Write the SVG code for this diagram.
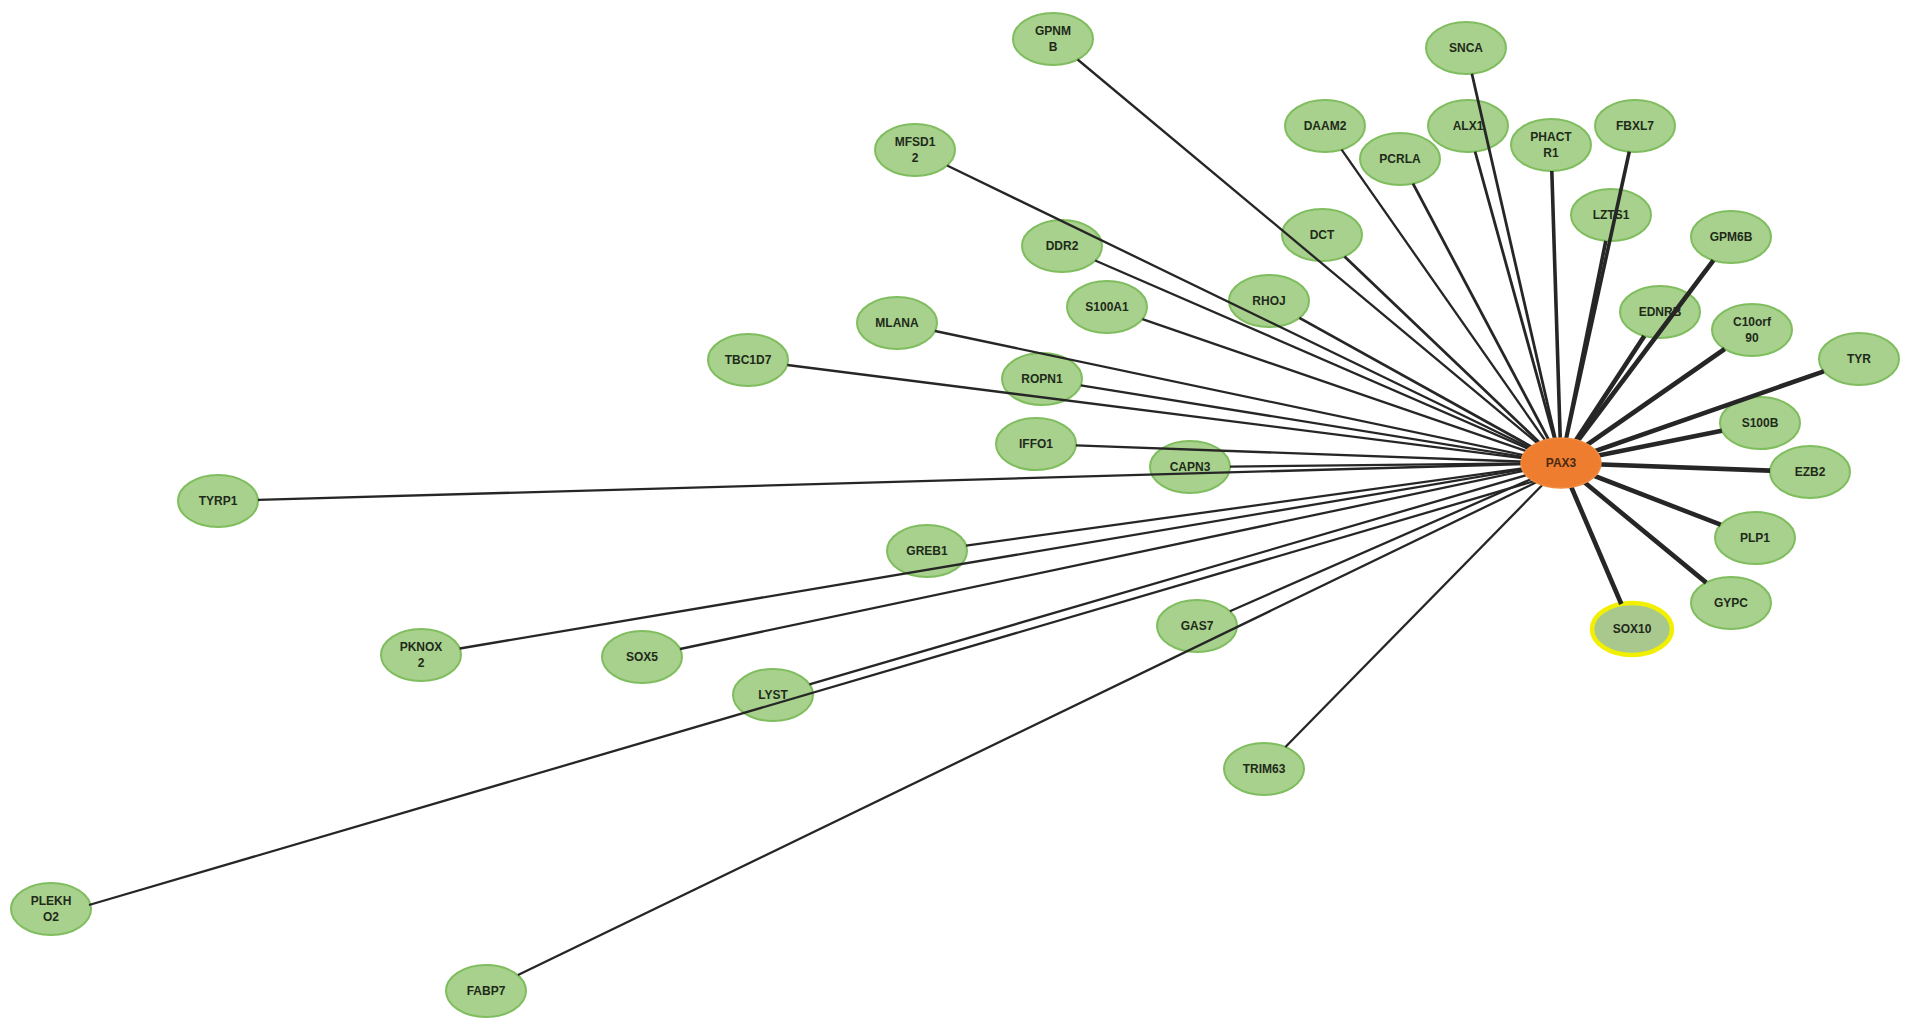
<svg xmlns="http://www.w3.org/2000/svg" width="1913" height="1031" viewBox="0 0 1913 1031">
<style>
.n ellipse{fill:#a8d18d;stroke:#7fbd5e;stroke-width:2}
.n text{font-family:"Liberation Sans",Arial,sans-serif;font-weight:bold;font-size:12px;fill:#1f2a1a;text-anchor:middle;dominant-baseline:central}
.hub ellipse{fill:#ef7d30;stroke:#f08a40;stroke-width:1.5}
.hub text{fill:#4a2a12}
.sox ellipse{fill:#a8c88e;stroke:#f2f000;stroke-width:4.5}
.e line{stroke:#262626;stroke-linecap:butt}
.t1{stroke-width:2.3}
.t2{stroke-width:2.8}
.t3{stroke-width:3.6}
.t4{stroke-width:4.6}
</style>
<rect width="1913" height="1031" fill="#ffffff"/>
<g id="nodes">
<g id="node-GPNMB" class="n"><ellipse cx="1053" cy="39" rx="40" ry="26"/><text x="1053" y="31">GPNM</text><text x="1053" y="47">B</text></g>
<g id="node-SNCA" class="n"><ellipse cx="1466" cy="48" rx="40" ry="26"/><text x="1466" y="48">SNCA</text></g>
<g id="node-DAAM2" class="n"><ellipse cx="1325" cy="126" rx="40" ry="26"/><text x="1325" y="126">DAAM2</text></g>
<g id="node-ALX1" class="n"><ellipse cx="1468" cy="126" rx="40" ry="26"/><text x="1468" y="126">ALX1</text></g>
<g id="node-PCRLA" class="n"><ellipse cx="1400" cy="159" rx="40" ry="26"/><text x="1400" y="159">PCRLA</text></g>
<g id="node-PHACTR1" class="n"><ellipse cx="1551" cy="145" rx="40" ry="26"/><text x="1551" y="137">PHACT</text><text x="1551" y="153">R1</text></g>
<g id="node-FBXL7" class="n"><ellipse cx="1635" cy="126" rx="40" ry="26"/><text x="1635" y="126">FBXL7</text></g>
<g id="node-MFSD12" class="n"><ellipse cx="915" cy="150" rx="40" ry="26"/><text x="915" y="142">MFSD1</text><text x="915" y="158">2</text></g>
<g id="node-DCT" class="n"><ellipse cx="1322" cy="235" rx="40" ry="26"/><text x="1322" y="235">DCT</text></g>
<g id="node-LZTS1" class="n"><ellipse cx="1611" cy="215" rx="40" ry="26"/><text x="1611" y="215">LZTS1</text></g>
<g id="node-GPM6B" class="n"><ellipse cx="1731" cy="237" rx="40" ry="26"/><text x="1731" y="237">GPM6B</text></g>
<g id="node-DDR2" class="n"><ellipse cx="1062" cy="246" rx="40" ry="26"/><text x="1062" y="246">DDR2</text></g>
<g id="node-RHOJ" class="n"><ellipse cx="1269" cy="301" rx="40" ry="26"/><text x="1269" y="301">RHOJ</text></g>
<g id="node-S100A1" class="n"><ellipse cx="1107" cy="307" rx="40" ry="26"/><text x="1107" y="307">S100A1</text></g>
<g id="node-EDNRB" class="n"><ellipse cx="1660" cy="312" rx="40" ry="26"/><text x="1660" y="312">EDNRB</text></g>
<g id="node-C10orf90" class="n"><ellipse cx="1752" cy="330" rx="40" ry="26"/><text x="1752" y="322">C10orf</text><text x="1752" y="338">90</text></g>
<g id="node-MLANA" class="n"><ellipse cx="897" cy="323" rx="40" ry="26"/><text x="897" y="323">MLANA</text></g>
<g id="node-TBC1D7" class="n"><ellipse cx="748" cy="360" rx="40" ry="26"/><text x="748" y="360">TBC1D7</text></g>
<g id="node-TYR" class="n"><ellipse cx="1859" cy="359" rx="40" ry="26"/><text x="1859" y="359">TYR</text></g>
<g id="node-ROPN1" class="n"><ellipse cx="1042" cy="379" rx="40" ry="26"/><text x="1042" y="379">ROPN1</text></g>
<g id="node-S100B" class="n"><ellipse cx="1760" cy="423" rx="40" ry="26"/><text x="1760" y="423">S100B</text></g>
<g id="node-IFFO1" class="n"><ellipse cx="1036" cy="444" rx="40" ry="26"/><text x="1036" y="444">IFFO1</text></g>
<g id="node-CAPN3" class="n"><ellipse cx="1190" cy="467" rx="40" ry="26"/><text x="1190" y="467">CAPN3</text></g>
<g id="node-EZB2" class="n"><ellipse cx="1810" cy="472" rx="40" ry="26"/><text x="1810" y="472">EZB2</text></g>
<g id="node-TYRP1" class="n"><ellipse cx="218" cy="501" rx="40" ry="26"/><text x="218" y="501">TYRP1</text></g>
<g id="node-PLP1" class="n"><ellipse cx="1755" cy="538" rx="40" ry="26"/><text x="1755" y="538">PLP1</text></g>
<g id="node-GREB1" class="n"><ellipse cx="927" cy="551" rx="40" ry="26"/><text x="927" y="551">GREB1</text></g>
<g id="node-GYPC" class="n"><ellipse cx="1731" cy="603" rx="40" ry="26"/><text x="1731" y="603">GYPC</text></g>
<g id="node-SOX10" class="n sox"><ellipse cx="1632" cy="629" rx="40" ry="26"/><text x="1632" y="629">SOX10</text></g>
<g id="node-PKNOX2" class="n"><ellipse cx="421" cy="655" rx="40" ry="26"/><text x="421" y="647">PKNOX</text><text x="421" y="663">2</text></g>
<g id="node-GAS7" class="n"><ellipse cx="1197" cy="626" rx="40" ry="26"/><text x="1197" y="626">GAS7</text></g>
<g id="node-SOX5" class="n"><ellipse cx="642" cy="657" rx="40" ry="26"/><text x="642" y="657">SOX5</text></g>
<g id="node-LYST" class="n"><ellipse cx="773" cy="695" rx="40" ry="26"/><text x="773" y="695">LYST</text></g>
<g id="node-TRIM63" class="n"><ellipse cx="1264" cy="769" rx="40" ry="26"/><text x="1264" y="769">TRIM63</text></g>
<g id="node-PLEKHO2" class="n"><ellipse cx="51" cy="909" rx="40" ry="26"/><text x="51" y="901">PLEKH</text><text x="51" y="917">O2</text></g>
<g id="node-FABP7" class="n"><ellipse cx="486" cy="991" rx="40" ry="26"/><text x="486" y="991">FABP7</text></g>
</g>
<g id="edges" class="e">
<line class="t1" x1="1077.6" y1="59.5" x2="1561" y2="463"/>
<line class="t2" x1="1471.9" y1="73.7" x2="1561" y2="463"/>
<line class="t1" x1="1341.6" y1="149.7" x2="1561" y2="463"/>
<line class="t2" x1="1475.1" y1="151.6" x2="1561" y2="463"/>
<line class="t2" x1="1413" y1="183.6" x2="1561" y2="463"/>
<line class="t3" x1="1551.8" y1="171" x2="1561" y2="463"/>
<line class="t3" x1="1629.3" y1="151.7" x2="1561" y2="463"/>
<line class="t1" x1="947.1" y1="165.5" x2="1561" y2="463"/>
<line class="t2" x1="1344.5" y1="256.5" x2="1561" y2="463"/>
<line class="t3" x1="1605.8" y1="240.8" x2="1561" y2="463"/>
<line class="t4" x1="1713.4" y1="260.3" x2="1561" y2="463"/>
<line class="t1" x1="1095.2" y1="260.5" x2="1561" y2="463"/>
<line class="t2" x1="1299.4" y1="317.9" x2="1561" y2="463"/>
<line class="t1" x1="1142.4" y1="319.2" x2="1561" y2="463"/>
<line class="t4" x1="1644.3" y1="335.9" x2="1561" y2="463"/>
<line class="t4" x1="1724.7" y1="349" x2="1561" y2="463"/>
<line class="t1" x1="935" y1="331" x2="1561" y2="463"/>
<line class="t1" x1="787.3" y1="365" x2="1561" y2="463"/>
<line class="t4" x1="1823.8" y1="371.3" x2="1561" y2="463"/>
<line class="t1" x1="1080.8" y1="385.3" x2="1561" y2="463"/>
<line class="t4" x1="1721.8" y1="430.7" x2="1561" y2="463"/>
<line class="t1" x1="1075.9" y1="445.4" x2="1561" y2="463"/>
<line class="t1" x1="1230" y1="466.6" x2="1561" y2="463"/>
<line class="t4" x1="1770" y1="470.6" x2="1561" y2="463"/>
<line class="t1" x1="258" y1="499.9" x2="1561" y2="463"/>
<line class="t4" x1="1720.6" y1="524.7" x2="1561" y2="463"/>
<line class="t1" x1="966.1" y1="545.6" x2="1561" y2="463"/>
<line class="t4" x1="1706.2" y1="582.6" x2="1561" y2="463"/>
<line class="t4" x1="1621.3" y1="604" x2="1561" y2="463"/>
<line class="t1" x1="459.7" y1="648.5" x2="1561" y2="463"/>
<line class="t1" x1="1229.9" y1="611.2" x2="1561" y2="466"/>
<line class="t1" x1="680" y1="649" x2="1561" y2="463"/>
<line class="t1" x1="809.4" y1="684.3" x2="1561" y2="465"/>
<line class="t1" x1="1285.4" y1="747" x2="1561" y2="466"/>
<line class="t1" x1="89" y1="905" x2="1545" y2="478"/>
<line class="t1" x1="518" y1="975" x2="1545" y2="478"/>
</g>
<g id="node-PAX3" class="n hub"><ellipse cx="1561" cy="463" rx="40" ry="25"/><text x="1561" y="463">PAX3</text></g>
</svg>
